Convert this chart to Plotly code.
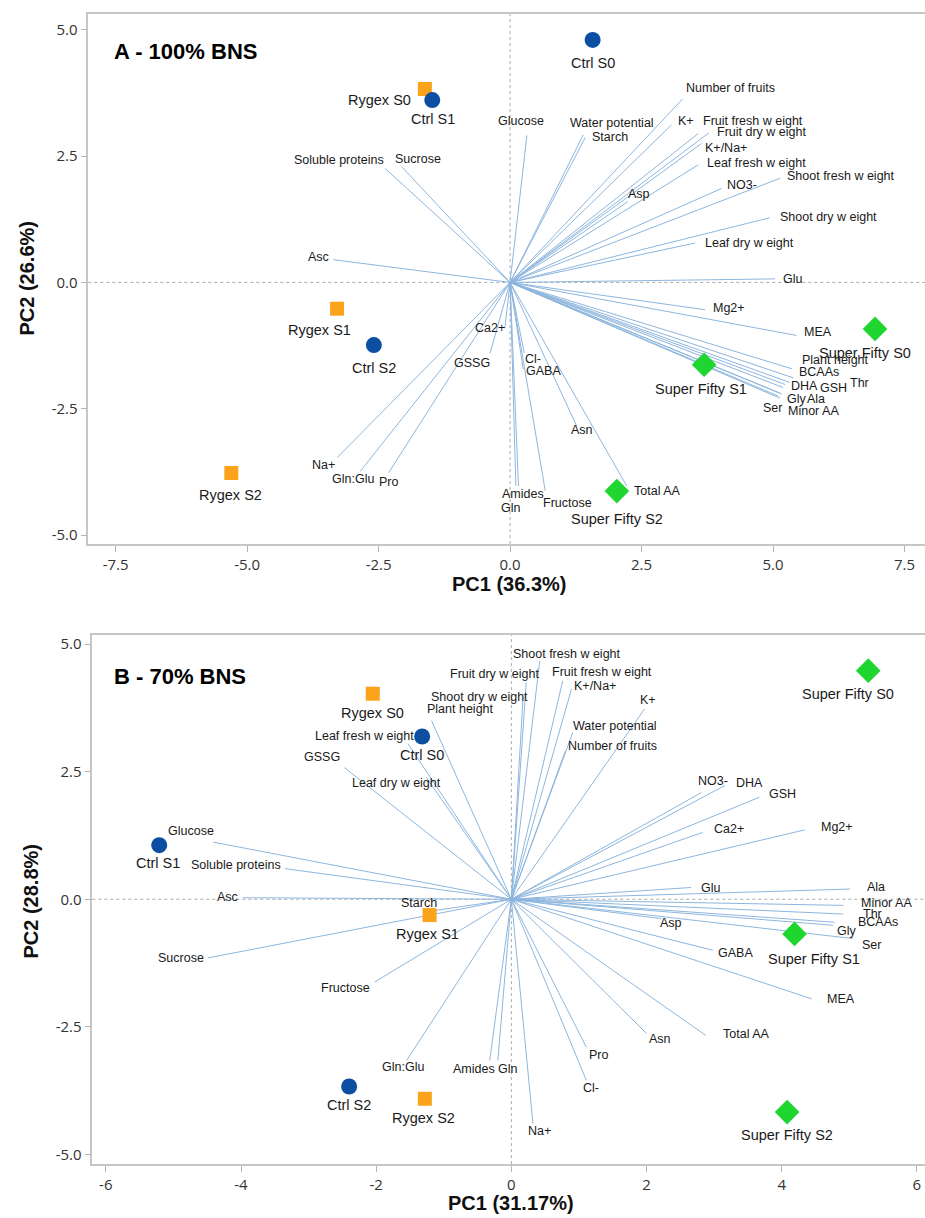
import plotly.graph_objects as go

# ---------------- data ----------------
variables = [
    "Number of fruits", "K+", "Fruit fresh w eight", "Fruit dry w eight", "K+/Na+",
    "Leaf fresh w eight", "NO3-", "Shoot fresh w eight", "Shoot dry w eight", "Leaf dry w eight",
    "Glu", "Asp", "Water potential", "Starch", "Glucose",
    "Mg2+", "MEA", "Plant height", "BCAAs", "Thr",
    "DHA", "GSH", "Gly", "Ala", "Ser",
    "Minor AA", "Asn", "Total AA", "Cl-", "GABA",
    "Fructose", "Amides", "Gln", "Ca2+", "GSSG",
    "Na+", "Gln:Glu", "Pro", "Asc", "Soluble proteins",
    "Sucrose",
]

# loadings, panel A (100% BNS)
a_load_pc1 = [3.28, 3.07, 3.58, 3.78, 3.64, 3.58, 4.02, 5.13, 4.94, 3.52,
              5.04, 2.24, 1.39, 1.43, 0.32, 3.71, 5.45, 5.36, 5.39, 5.32,
              5.23, 5.19, 5.13, 5.17, 5.10, 5.13, 1.27, 2.22, 0.27, 0.25,
              0.67, 0.16, 0.11, -0.10, -0.38, -3.29, -2.85, -2.31, -3.36, -2.38,
              -2.06]
a_load_pc2 = [3.63, 3.12, 2.95, 2.96, 2.75, 2.33, 1.86, 2.06, 1.28, 0.78,
              0.07, 1.60, 2.92, 2.87, 2.91, -0.54, -1.05, -1.71, -1.89, -1.98,
              -2.02, -2.08, -2.19, -2.21, -2.25, -2.29, -2.85, -4.03, -1.40, -1.72,
              -4.13, -4.03, -4.03, -0.91, -1.40, -3.47, -3.74, -3.77, 0.45, 2.26,
              2.29]

# loadings, panel B (70% BNS)
b_load_pc1 = [0.80, 1.97, 0.76, 0.22, 0.89, -1.53, 2.81, 0.42, 0.17, -1.26,
              2.66, 2.22, 0.91, -1.13, -4.41, 4.34, 4.44, -1.18, 4.78, 4.91,
              3.16, 3.67, 4.76, 5.01, 5.05, 4.91, 2.00, 2.88, 1.11, 2.98,
              -2.02, -0.32, -0.20, 2.83, -2.47, 0.32, -1.55, 1.11, -3.97, -3.35,
              -4.49]
b_load_pc2 = [2.91, 3.73, 4.28, 4.25, 4.12, 3.05, 2.09, 4.67, 3.89, 2.39,
              0.23, -0.38, 3.27, -0.22, 1.12, 1.36, -1.95, 3.50, -0.45, -0.29,
              2.23, 2.00, -0.51, 0.20, -0.77, -0.12, -2.63, -2.67, -3.55, -1.00,
              -1.62, -3.16, -3.16, 1.31, 2.58, -4.40, -3.16, -2.90, 0.03, 0.60,
              -1.15]

samples = ["Ctrl S0", "Ctrl S1", "Ctrl S2",
           "Rygex S0", "Rygex S1", "Rygex S2",
           "Super Fifty S0", "Super Fifty S1", "Super Fifty S2"]
groups = ["Ctrl"] * 3 + ["Rygex"] * 3 + ["Super Fifty"] * 3

a_score_pc1 = [1.57, -1.48, -2.59, -1.62, -3.29, -5.30, 6.94, 3.69, 2.03]
a_score_pc2 = [4.80, 3.61, -1.24, 3.83, -0.52, -3.77, -0.92, -1.63, -4.13]
b_score_pc1 = [-1.32, -5.21, -2.40, -2.05, -1.21, -1.28, 5.28, 4.19, 4.08]
b_score_pc2 = [3.19, 1.06, -3.67, 4.03, -0.31, -3.91, 4.48, -0.68, -4.17]

a_xticks = [-7.5, -5.0, -2.5, 0.0, 2.5, 5.0, 7.5]
a_xtick_labels = ["-7.5", "-5.0", "-2.5", "0.0", "2.5", "5.0", "7.5"]
a_yticks = [-5.0, -2.5, 0.0, 2.5, 5.0]
a_ytick_labels = ["-5.0", "-2.5", "0.0", "2.5", "5.0"]
b_xticks = [-6, -4, -2, 0, 2, 4, 6]
b_xtick_labels = ["-6", "-4", "-2", "0", "2", "4", "6"]
b_yticks = [-5.0, -2.5, 0.0, 2.5, 5.0]
b_ytick_labels = ["-5.0", "-2.5", "0.0", "2.5", "5.0"]

# ---------------- label placement (anchor, dx px, dy px downwards) ----------------
a_var_label_pos = [
    ("left", 1, -11), ("left", 4, -4), ("left", 3, -12), ("left", 6, -1), ("left", 2, 4),
    ("left", 7, -2), ("left", 4, -3), ("left", 5, -2), ("left", 8, -1), ("left", 8, 0),
    ("left", 6, 0), ("left", -2, -8), ("center", 29, -12), ("left", 5, 0), ("center", -6, -14),
    ("left", 6, -2), ("left", 5, -3), ("left", 8, -9), ("left", 3, -6), ("left", 58, 1),
    ("left", 4, 2), ("left", 35, 0), ("left", 5, 6), ("left", 23, 5), ("left", -17, 12),
    ("left", 6, 13), ("center", 5, 4), ("left", 5, 5), ("left", -1, 6), ("left", 1, 2),
    ("left", -4, 12), ("left", -18, 8), ("center", -5, 22), ("right", 2, 0), ("right", 2, 10),
    ("right", 0, 7), ("center", -7, 8), ("center", 0, 9), ("right", -2, -3), ("right", 1, -8),
    ("left", -9, -8),
]
b_var_label_pos = [
    ("left", 1, -5), ("center", 3, -9), ("left", -13, -9), ("right", 15, -8), ("left", 0, -3),
    ("right", 8, -8), ("center", 12, -12), ("center", 27, -7), ("right", 7, -4), ("center", -30, 6),
    ("left", 8, 0), ("center", 10, 4), ("left", -2, -6), ("center", -16, -7), ("center", -22, -11),
    ("left", 14, -3), ("left", 14, 0), ("left", -7, -12), ("left", 22, 0), ("left", 18, 0),
    ("left", 9, -2), ("left", 8, -3), ("left", 2, 6), ("left", 15, -2), ("left", 7, 6),
    ("left", 16, -2), ("center", 13, 6), ("left", 15, -2), ("center", 5, 8), ("left", 3, 3),
    ("right", -3, 6), ("center", -16, 8), ("center", 10, 8), ("left", 9, -3), ("right", -2, -11),
    ("center", 7, 7), ("center", -4, 6), ("center", 13, 8), ("right", -3, -1), ("right", -2, -4),
    ("right", -2, 0),
]
a_sample_label_pos = [("center", 0, 23), ("center", 1, 19), ("center", 0, 23),
                      ("right", -12, 11), ("center", -18, 21), ("center", -1, 22),
                      ("center", -10, 24), ("center", -3, 24), ("center", 0, 28)]
b_sample_label_pos = [("center", 0, 19), ("center", -1, 18), ("center", 0, 18),
                      ("center", 0, 19), ("center", -2, 19), ("center", -1, 19),
                      ("center", -20, 23), ("center", 19, 25), ("center", 0, 23)]

# ---------------- styles ----------------
W, H = 925, 1218
marker_style = {
    "Ctrl": dict(symbol="circle", color="#0b4ea2", size=16),
    "Rygex": dict(symbol="square", color="#fca31c", size=14),
    "Super Fifty": dict(symbol="diamond", color="#1fd630", size=19),
}
draw_order = ["Rygex", "Ctrl", "Super Fifty"]
vector_color = "#8db6de"
label_font = dict(family="Liberation Sans, Arial, sans-serif", size=12.5, color="#1a1a1a")
sample_font = dict(family="Liberation Sans, Arial, sans-serif", size=14.5, color="#1a1a1a")
tick_font = dict(family="Open Sans, sans-serif", size=15, color="#333333")
title_font = dict(family="Liberation Sans, Arial, sans-serif", size=20, color="#111111")

panels = [
    dict(ax="", title="A - 100% BNS", xt="PC1 (36.3%)", yt="PC2 (26.6%)",
         lp1=a_load_pc1, lp2=a_load_pc2, sp1=a_score_pc1, sp2=a_score_pc2,
         vpos=a_var_label_pos, spos=a_sample_label_pos,
         xdom=[88.3 / W, 1.0], ydom=[1 - 543 / H, 1 - 11.7 / H],
         xr=[-8.02, 7.89], yr=[-5.18, 5.32],
         xt_v=a_xticks, xt_t=a_xtick_labels, yt_v=a_yticks, yt_t=a_ytick_labels,
         title_px=(112, 50), xtitle_px=(509, 583), ytitle_px=(27, 277)),
    dict(ax="2", title="B - 70% BNS", xt="PC1 (31.17%)", yt="PC2 (28.8%)",
         lp1=b_load_pc1, lp2=b_load_pc2, sp1=b_score_pc1, sp2=b_score_pc2,
         vpos=b_var_label_pos, spos=b_sample_label_pos,
         xdom=[92.3 / W, 1.0], ydom=[1 - 1164 / H, 1 - 634 / H],
         xr=[-6.20, 6.12], yr=[-5.19, 5.18],
         xt_v=b_xticks, xt_t=b_xtick_labels, yt_v=b_yticks, yt_t=b_ytick_labels,
         title_px=(112, 676), xtitle_px=(511, 1203), ytitle_px=(31, 900)),
]

fig = go.Figure()
annotations = []
shapes = []
layout_axes = {}

for p in panels:
    xa, ya = "x" + p["ax"], "y" + p["ax"]

    # loading vectors from the origin
    vx, vy = [], []
    for x1, y1 in zip(p["lp1"], p["lp2"]):
        vx += [0, x1, None]
        vy += [0, y1, None]
    fig.add_trace(go.Scatter(x=vx, y=vy, mode="lines", xaxis=xa, yaxis=ya,
                             line=dict(color=vector_color, width=1),
                             hoverinfo="skip", showlegend=False))

    # sample scores
    for g in draw_order:
        idx = [i for i, gg in enumerate(groups) if gg == g]
        st = marker_style[g]
        fig.add_trace(go.Scatter(
            x=[p["sp1"][i] for i in idx], y=[p["sp2"][i] for i in idx],
            mode="markers", xaxis=xa, yaxis=ya, name=g, showlegend=False,
            marker=dict(symbol=st["symbol"], color=st["color"], size=st["size"],
                        line=dict(width=0)),
            text=[samples[i] for i in idx], hoverinfo="text"))

    # variable labels at vector tips
    for name, x1, y1, (anc, dx, dy) in zip(variables, p["lp1"], p["lp2"], p["vpos"]):
        annotations.append(dict(x=x1, y=y1, xref=xa, yref=ya, text=name, showarrow=False,
                                xanchor=anc, yanchor="middle", xshift=dx, yshift=-dy,
                                font=label_font))
    # sample labels
    for name, x1, y1, (anc, dx, dy) in zip(samples, p["sp1"], p["sp2"], p["spos"]):
        annotations.append(dict(x=x1, y=y1, xref=xa, yref=ya, text=name, showarrow=False,
                                xanchor=anc, yanchor="middle", xshift=dx, yshift=-dy,
                                font=sample_font))

    # panel title and axis titles
    tx, ty = p["title_px"]
    annotations.append(dict(x=tx / W, y=1 - ty / H, xref="paper", yref="paper",
                            text="<b>%s</b>" % p["title"], showarrow=False,
                            xanchor="left", yanchor="middle",
                            font=dict(family="Liberation Sans, Arial, sans-serif",
                                      size=22, color="#000000")))
    xx, xy = p["xtitle_px"]
    annotations.append(dict(x=xx / W, y=1 - xy / H, xref="paper", yref="paper",
                            text="<b>%s</b>" % p["xt"], showarrow=False,
                            xanchor="center", yanchor="middle", font=title_font))
    yx, yy = p["ytitle_px"]
    annotations.append(dict(x=yx / W, y=1 - yy / H, xref="paper", yref="paper",
                            text="<b>%s</b>" % p["yt"], showarrow=False, textangle=-90,
                            xanchor="center", yanchor="middle", font=title_font))

    # dashed reference lines through the origin
    shapes.append(dict(type="line", xref=xa, yref=ya + " domain", x0=0, x1=0, y0=0, y1=1,
                       line=dict(color="#a9a9a9", width=1, dash="3px,3px"), layer="below"))
    shapes.append(dict(type="line", xref=xa + " domain", yref=ya, x0=0, x1=1, y0=0, y1=0,
                       line=dict(color="#a9a9a9", width=1, dash="3px,3px"), layer="below"))

    axis_common = dict(showgrid=False, zeroline=False, showline=True,
                       linecolor="#c6c6c6", linewidth=1.5, ticks="outside", ticklen=6,
                       tickwidth=1, tickcolor="#b5b5b5", tickfont=tick_font, fixedrange=True)
    # frame: bottom + top from the x axis, left from the y axis
    layout_axes["xaxis" + p["ax"]] = dict(axis_common, domain=p["xdom"], range=p["xr"],
                                          mirror=True, tickmode="array",
                                          tickvals=p["xt_v"], ticktext=p["xt_t"], anchor=ya)
    layout_axes["yaxis" + p["ax"]] = dict(axis_common, domain=p["ydom"], range=p["yr"],
                                          mirror=False, tickmode="array",
                                          tickvals=p["yt_v"], ticktext=p["yt_t"], anchor=xa)

fig.update_layout(
    width=W, height=H, margin=dict(l=0, r=0, t=0, b=0),
    paper_bgcolor="white", plot_bgcolor="white",
    annotations=annotations, shapes=shapes, showlegend=False,
    **layout_axes,
)

fig.write_html("out.html")
